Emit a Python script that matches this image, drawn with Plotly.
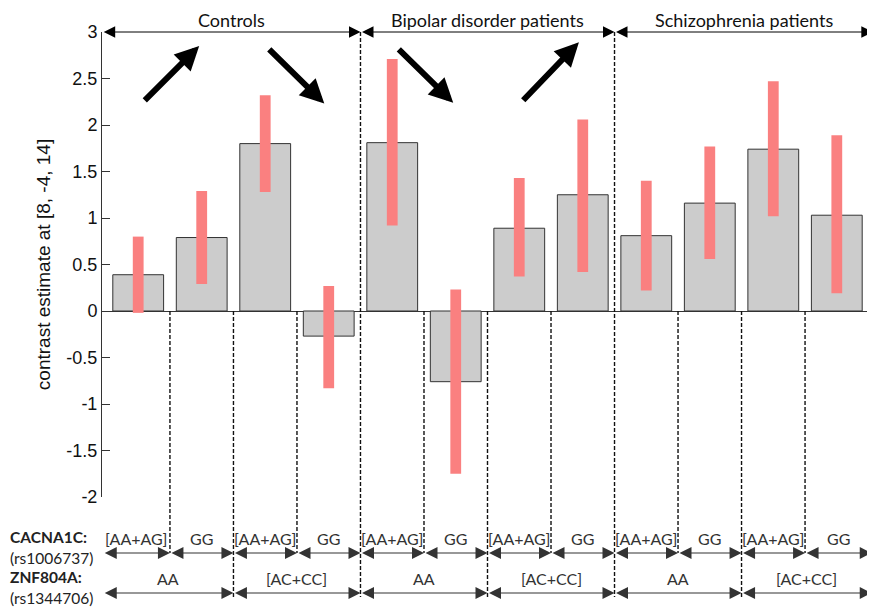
import plotly.graph_objects as go

# ---------------- data ----------------
groups = ["Controls", "Bipolar disorder patients", "Schizophrenia patients"]
group_of_bar = [0, 0, 0, 0, 1, 1, 1, 1, 2, 2, 2, 2]
cacna1c = ["[AA+AG]", "GG", "[AA+AG]", "GG", "[AA+AG]", "GG",
           "[AA+AG]", "GG", "[AA+AG]", "GG", "[AA+AG]", "GG"]
znf804a = ["AA", "AA", "[AC+CC]", "[AC+CC]", "AA", "AA",
           "[AC+CC]", "[AC+CC]", "AA", "AA", "[AC+CC]", "[AC+CC]"]
means = [0.39, 0.79, 1.80, -0.27, 1.81, -0.76, 0.89, 1.25, 0.81, 1.16, 1.74, 1.03]
ci_low = [-0.02, 0.29, 1.28, -0.83, 0.92, -1.75, 0.37, 0.42, 0.22, 0.56, 1.02, 0.19]
ci_high = [0.80, 1.29, 2.32, 0.27, 2.71, 0.23, 1.43, 2.06, 1.40, 1.77, 2.47, 1.89]
ytick_vals = [-2, -1.5, -1, -0.5, 0, 0.5, 1, 1.5, 2, 2.5, 3]
ytick_text = ["-2", "-1.5", "-1", "-0.5", "0", "0.5", "1", "1.5", "2", "2.5", "3"]
y_title = "contrast estimate at [8, -4, 14]"
row_labels = ["CACNA1C:", "(rs1006737)", "ZNF804A:", "(rs1344706)"]
# trend arrows (tail x, tail y, tip x, tip y) in axis units
trend_arrows = [(0.08, 2.25, 0.96, 2.85), (2.04, 2.83, 2.93, 2.23),
                (4.08, 2.83, 4.96, 2.24), (6.04, 2.25, 6.94, 2.89)]

# ---------------- layout constants ----------------
OFF = 8                      # page body margin of the html page
W, H = 875 - OFF, 607 - OFF
ML, MR, MT, MB = 102 - OFF, 2, 32 - OFF, 110
PH = H - MT - MB
PW = W - ML - MR
XMIN, XMAX = -0.57, 11.57
YMIN, YMAX = -2, 3
EDGE_L, EDGE_R = -0.55, 11.55


def yp_px(py):
    """paper y for a page pixel row"""
    return (H - MB - (py - OFF)) / PH


def yp_val(v):
    return (v - YMIN) / (YMAX - YMIN)


def xp(v):
    return (v - XMIN) / (XMAX - XMIN)


xpos = list(range(len(means)))

fig = go.Figure()
fig.add_trace(go.Bar(
    x=xpos, y=means, width=0.8,
    marker=dict(color="#cccccc", line=dict(color="#333333", width=1)),
    hoverinfo="skip",
))
fig.add_trace(go.Bar(
    x=xpos, y=[h - l for h, l in zip(ci_high, ci_low)], base=ci_low, width=0.17,
    marker=dict(color="#fa8080", line=dict(width=0)),
    hoverinfo="skip",
))

shapes = []
annotations = []
DASH = dict(color="#111111", width=1.4, dash="4px,2px")

# separators between bars
n = len(means)
for i in range(n - 1):
    b = i + 0.5
    if group_of_bar[i] != group_of_bar[i + 1]:
        y0, y1 = yp_val(YMAX), yp_px(597)
    elif znf804a[i] != znf804a[i + 1]:
        y0, y1 = yp_val(0), yp_px(597)
    else:
        y0, y1 = yp_val(0), yp_px(553)
    shapes.append(dict(type="line", xref="paper", yref="paper",
                       x0=xp(b), x1=xp(b), y0=y0, y1=y1, line=DASH))
# right edge
shapes.append(dict(type="line", xref="paper", yref="paper",
                   x0=0.999, x1=0.999, y0=yp_val(YMAX), y1=yp_px(597), line=DASH))


def dbl_arrow(x0, x1, ypaper, color, width, size):
    annotations.append(dict(
        x=xp(x1), y=ypaper, xref="paper", yref="paper",
        ax=(xp(x0) - xp(x1)) * PW, ay=0, axref="pixel", ayref="pixel",
        text="", showarrow=True, arrowside="end+start",
        arrowhead=2, startarrowhead=2, arrowsize=size, startarrowsize=size,
        arrowwidth=width, arrowcolor=color, standoff=0, startstandoff=0,
    ))


# group brackets on top
for g, name in enumerate(groups):
    idx = [i for i in range(n) if group_of_bar[i] == g]
    a = XMIN + 0.003 if idx[0] == 0 else idx[0] - 0.5
    b = XMAX - 0.003 if idx[-1] == n - 1 else idx[-1] + 0.5
    dbl_arrow(a, b, yp_val(YMAX), "#000000", 1, 2.3)
    annotations.append(dict(x=xp((a + b) / 2), y=yp_px(20), xref="paper", yref="paper",
                            text=name, showarrow=False, xanchor="center", yanchor="middle",
                            borderpad=0,
                            font=dict(family="Lato", size=18, color="#111111")))


def runs(labels):
    out = []
    start = 0
    for i in range(1, n + 1):
        if i == n or labels[i] != labels[start] or group_of_bar[i] != group_of_bar[start] \
                or (labels is cacna1c):
            out.append((start, i - 1, labels[start]))
            start = i
    return out


for labels, ytext, yarrow in ((cacna1c, 538, 553), (znf804a, 578, 593)):
    for s, e, lab in runs(labels):
        a = EDGE_L if s == 0 else s - 0.5
        b = EDGE_R if e == n - 1 else e + 0.5
        dbl_arrow(a, b, yp_px(yarrow), "#333333", 1.2, 2.0)
        annotations.append(dict(x=xp((a + b) / 2), y=yp_px(ytext), xref="paper", yref="paper",
                                text=lab, showarrow=False, xanchor="center", yanchor="middle",
                                font=dict(family="Lato", size=16, color="#333333")))

for lab, py in zip(row_labels, (537, 558, 577, 598)):
    bold = not lab.startswith("(")
    annotations.append(dict(x=-ML / PW, y=yp_px(py), xref="paper", yref="paper",
                            text=f"<b>{lab}</b>" if bold else lab, showarrow=False,
                            xanchor="left", yanchor="middle",
                            font=dict(family="Lato", size=15.5, color="#222222")))

for tx, ty, hx, hy in trend_arrows:
    annotations.append(dict(x=hx, y=hy, xref="x", yref="y", ax=tx, ay=ty, axref="x", ayref="y",
                            text="", showarrow=True, arrowhead=2, arrowsize=0.8,
                            arrowwidth=6, arrowcolor="#000000", standoff=0))

fig.update_layout(
    width=W, height=H,
    margin=dict(l=ML, r=MR, t=MT, b=MB, autoexpand=False),
    paper_bgcolor="white", plot_bgcolor="white",
    barmode="overlay", showlegend=False,
    shapes=shapes, annotations=annotations,
    xaxis=dict(range=[XMIN, XMAX], visible=False, fixedrange=True, automargin=False),
    yaxis=dict(range=[YMIN, YMAX], tickvals=ytick_vals, ticktext=ytick_text,
               ticks="inside", ticklen=8, tickcolor="#333333", automargin=False,
               showline=True, linecolor="#333333", linewidth=1,
               showgrid=False, zeroline=True, zerolinecolor="#333333", zerolinewidth=1,
               tickfont=dict(family="Liberation Sans", size=18, color="#111111"),
               title=dict(text=y_title, standoff=10,
                          font=dict(family="Liberation Sans", size=19, color="#111111"))),
)

fig.write_html("out.html")
